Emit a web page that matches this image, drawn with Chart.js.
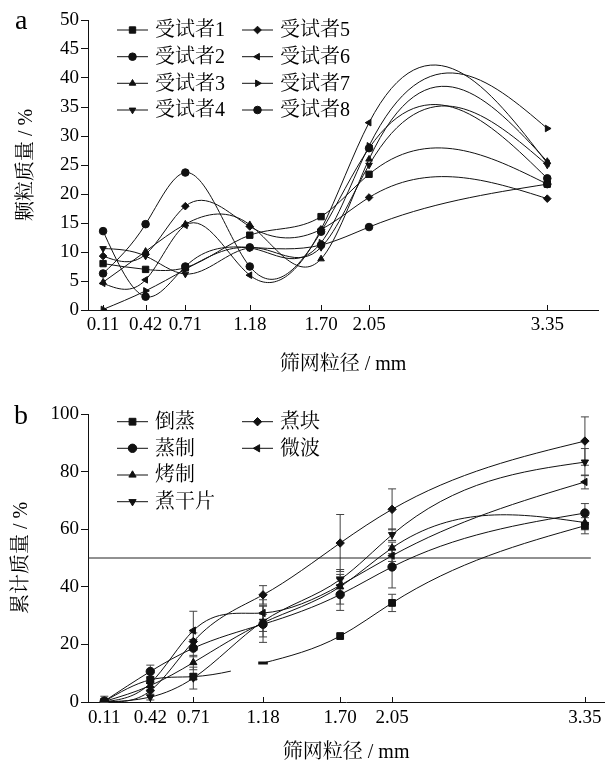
<!DOCTYPE html>
<html>
<head>
<meta charset="utf-8">
<script src="https://cdn.jsdelivr.net/npm/chart.js@4.4.1/dist/chart.umd.min.js"></script>
<style>
html, body { margin: 0; padding: 0; background: #fff; }
#wrap { position: relative; width: 610px; height: 768px; overflow: hidden; }
#chartA { position: absolute; left: 0; top: 0; }
#chartB { position: absolute; left: 0; top: 380px; }
.tag { position: absolute; font-family: 'Liberation Serif', serif; font-size: 28px; color: #000; line-height: 1; }
</style>
</head>
<body>
<div id="wrap">
	<canvas id="chartA" width="610" height="380"></canvas>
	<canvas id="chartB" width="610" height="388"></canvas>
	<div class="tag" style="left:15px;top:6px;">a</div>
	<div class="tag" style="left:14px;top:401px;">b</div>
</div>
<script>
// 筛孔尺寸 (mm)
const sieveSizes = [0.11, 0.42, 0.71, 1.18, 1.70, 2.05, 3.35];

// 图 a : 各受试者颗粒质量分布 (%)
const subjectNames = ['受试者1', '受试者2', '受试者3', '受试者4', '受试者5', '受试者6', '受试者7', '受试者8'];
const subject1 = [8.0, 7.0, 7.3, 12.9, 16.1, 23.4, 21.7];
const subject2 = [6.3, 14.8, 23.7, 7.5, 13.5, 27.9, 22.7];
const subject3 = [4.8, 10.1, 14.8, 14.7, 8.8, 26.0, 25.6];
const subject4 = [10.6, 9.3, 6.2, 10.7, 10.8, 25.0, 25.0];
const subject5 = [9.3, 9.6, 17.9, 14.4, 13.9, 19.4, 19.2];
const subject6 = [4.6, 5.2, 14.6, 6.0, 13.9, 32.3, 25.3];
const subject7 = [0.1, 3.3, 7.0, 10.7, 11.6, 28.3, 31.3];
const subject8 = [13.6, 2.3, 7.5, 10.8, 11.2, 14.3, 21.7];
const subjectTicks = [0, 5, 10, 15, 20, 25, 30, 35, 40, 45, 50];

// 图 b : 累计质量 (%) 及误差
const methodNames = ['倒蒸', '蒸制', '烤制', '煮干片', '煮块', '微波'];
const daozheng = [0.2, 7.7, 8.8, 13.5, 22.9, 34.4, 61.2];
const zhengzhi = [0.3, 10.6, 18.7, 27.0, 37.3, 46.9, 65.6];
const kaozhi = [0.2, 5.7, 13.7, 27.5, 40.0, 53.5, 62.3];
const zhuganpian = [0, 1.7, 8.3, 28.0, 42.5, 58.1, 83.3];
const zhukuai = [0.2, 3.9, 21.0, 37.2, 55.2, 66.9, 90.6];
const weibo = [0.1, 6.5, 24.8, 30.9, 40.5, 50.8, 76.4];
const daozhengErr = [0, 1.0, 1.0, 0, 0, 3.0, 2.8];
const zhengzhiErr = [0.5, 2.2, 3.0, 6.3, 5.5, 7.3, 3.3];
const kaozhiErr = [0.3, 1.5, 2.5, 3.0, 6.0, 2.0, 2.5];
const zhuganpianErr = [0, 1.0, 3.8, 5.4, 1.8, 2.0, 4.7];
const zhukuaiErr = [1.8, 1.5, 3.0, 3.2, 9.9, 7.1, 8.4];
const weiboErr = [0.3, 1.5, 6.7, 4.6, 3.0, 2.0, 2.4];
const medianLevel = 50;
const medianSpan = [0, 3.39];
const cumTicks = [0, 20, 40, 60, 80, 100];

const FONT = "'Liberation Serif', 'Noto Serif CJK SC', 'Noto Sans CJK SC', serif";
const INK = '#111';

function toPoints(values) {
	return values.map((v, i) => ({x: sieveSizes[i], y: v}));
}

// 自然三次样条: 改写每个点的贝塞尔控制点
function setNaturalSpline(pts) {
	const n = pts.length - 1;
	if (n < 1) {
		return;
	}
	const h = [], d = [];
	for (let i = 0; i < n; i++) {
		h[i] = pts[i + 1].x - pts[i].x;
		d[i] = (pts[i + 1].y - pts[i].y) / h[i];
	}
	const M = new Array(n + 1).fill(0);
	if (n > 1) {
		const a = [], b = [], c = [], r = [];
		for (let i = 1; i < n; i++) {
			a.push(h[i - 1]);
			b.push(2 * (h[i - 1] + h[i]));
			c.push(h[i]);
			r.push(6 * (d[i] - d[i - 1]));
		}
		const m = b.length;
		for (let i = 1; i < m; i++) {
			const w = a[i] / b[i - 1];
			b[i] -= w * c[i - 1];
			r[i] -= w * r[i - 1];
		}
		const sol = new Array(m);
		sol[m - 1] = r[m - 1] / b[m - 1];
		for (let i = m - 2; i >= 0; i--) {
			sol[i] = (r[i] - c[i] * sol[i + 1]) / b[i];
		}
		for (let i = 1; i < n; i++) {
			M[i] = sol[i - 1];
		}
	}
	for (let i = 0; i <= n; i++) {
		const p = pts[i];
		const slope = i < n
			? d[i] - h[i] * (2 * M[i] + M[i + 1]) / 6
			: d[n - 1] + h[n - 1] * (M[n - 1] + 2 * M[n]) / 6;
		if (i > 0) {
			p.cp1x = p.x - h[i - 1] / 3;
			p.cp1y = p.y - slope * h[i - 1] / 3;
		}
		if (i < n) {
			p.cp2x = p.x + h[i] / 3;
			p.cp2y = p.y + slope * h[i] / 3;
		}
	}
}

const splinePlugin = {
	id: 'naturalSpline',
	beforeDatasetsDraw(chart) {
		chart.data.datasets.forEach((ds, di) => {
			const meta = chart.getDatasetMeta(di);
			if (!meta.dataset || meta.hidden) {
				return;
			}
			meta.dataset.updateControlPoints(chart.chartArea, 'x');
			setNaturalSpline(meta.data.filter(p => !p.skip));
			meta.dataset._path = undefined;
		});
	}
};

const errorBarPlugin = {
	id: 'errorBars',
	beforeDatasetsDraw(chart) {
		const ctx = chart.ctx;
		const yScale = chart.scales.y;
		ctx.save();
		ctx.strokeStyle = '#444';
		ctx.lineWidth = 1;
		chart.data.datasets.forEach((ds, di) => {
			if (!ds.errorBars) {
				return;
			}
			const meta = chart.getDatasetMeta(di);
			meta.data.forEach((pt, i) => {
				const e = ds.errorBars[i];
				if (!e) {
					return;
				}
				const v = ds.data[i].y;
				const top = yScale.getPixelForValue(v + e);
				const bot = yScale.getPixelForValue(Math.max(v - e, 0));
				ctx.beginPath();
				ctx.moveTo(pt.x, top);
				ctx.lineTo(pt.x, bot);
				ctx.moveTo(pt.x - 4, top);
				ctx.lineTo(pt.x + 4, top);
				ctx.moveTo(pt.x - 4, bot);
				ctx.lineTo(pt.x + 4, bot);
				ctx.stroke();
			});
		});
		ctx.restore();
	}
};

// x 轴刻度朝内
const innerTickPlugin = {
	id: 'innerTicks',
	afterDraw(chart) {
		const ctx = chart.ctx;
		const xs = chart.scales.x;
		const bottom = chart.chartArea.bottom;
		ctx.save();
		ctx.strokeStyle = INK;
		ctx.lineWidth = 1;
		xs.ticks.forEach(t => {
			const px = Math.round(xs.getPixelForValue(t.value)) + 0.5;
			ctx.beginPath();
			ctx.moveTo(px, bottom);
			ctx.lineTo(px, bottom - 5);
			ctx.stroke();
		});
		ctx.restore();
	}
};

// 图内两列图例
const innerLegendPlugin = {
	id: 'innerLegend',
	afterDraw(chart, args, opts) {
		const ctx = chart.ctx;
		const items = chart.data.datasets.filter(ds => !ds.noLegend);
		ctx.save();
		ctx.font = opts.fontSize + 'px ' + FONT;
		ctx.textBaseline = 'middle';
		items.forEach((ds, i) => {
			const col = Math.floor(i / opts.rows.length);
			const y = opts.rows[i % opts.rows.length];
			const x0 = opts.cols[col];
			ctx.strokeStyle = INK;
			ctx.fillStyle = INK;
			ctx.lineWidth = 1;
			ctx.beginPath();
			ctx.moveTo(x0, y);
			ctx.lineTo(x0 + opts.lineLen, y);
			ctx.stroke();
			Chart.helpers.drawPoint(ctx, {
				pointStyle: Array.isArray(ds.pointStyle) ? ds.pointStyle[0] : ds.pointStyle,
				rotation: ds.pointRotation || 0,
				radius: ds.pointRadius,
				borderWidth: 1
			}, x0 + opts.lineLen / 2, y);
			ctx.fillStyle = '#000';
			ctx.fillText(ds.label, x0 + opts.lineLen + 7, y + 1);
		});
		ctx.restore();
	}
};

function seriesSet(label, values, style, rotation, radius) {
	return {
		label: label,
		data: toPoints(values),
		borderColor: INK,
		backgroundColor: INK,
		borderWidth: 1,
		pointStyle: style,
		pointRotation: rotation,
		pointRadius: radius,
		pointBackgroundColor: INK,
		pointBorderColor: INK,
		pointBorderWidth: 1,
		tension: 0.4,
		fill: false
	};
}

function xAxis(max, height, pad) {
	return {
		type: 'linear',
		min: 0,
		max: max,
		afterBuildTicks: scale => {
			scale.ticks = sieveSizes.map(v => ({value: v}));
		},
		afterFit: scale => {
			scale.height = height;
		},
		border: {display: true, color: INK, width: 1},
		grid: {drawOnChartArea: false, drawTicks: false},
		ticks: {
			autoSkip: false,
			maxRotation: 0,
			padding: pad,
			color: '#000',
			font: {family: FONT, size: 19, lineHeight: 1.2},
			callback: v => Number(v).toFixed(2)
		},
		title: {
			display: true,
			text: '筛网粒径 / mm',
			color: '#000',
			font: {family: FONT, size: 20, lineHeight: 1.2},
			padding: {top: 0, bottom: 3}
		}
	};
}

function yAxis(max, tickValues, text, titlePad) {
	return {
		min: 0,
		max: max,
		afterBuildTicks: scale => {
			scale.ticks = tickValues.map(v => ({value: v}));
		},
		afterFit: scale => {
			scale.width = 88;
		},
		border: {display: true, color: INK, width: 1},
		grid: {drawOnChartArea: false, drawTicks: true, tickLength: 7, color: INK},
		ticks: {
			padding: 2,
			color: '#000',
			font: {family: FONT, size: 19, lineHeight: 1.2}
		},
		title: {
			display: true,
			text: text,
			color: '#000',
			font: {family: FONT, size: 20, lineHeight: 1.2},
			padding: {top: titlePad, bottom: 0}
		}
	};
}

const subjectValues = [subject1, subject2, subject3, subject4, subject5, subject6, subject7, subject8];
const subjectStyles = [['rect', 0], ['circle', 0], ['triangle', 0], ['triangle', 180], ['rectRot', 0], ['triangle', -90], ['triangle', 90], ['circle', 0]];

new Chart(document.getElementById('chartA'), {
	type: 'line',
	data: {
		datasets: subjectValues.map((vals, i) => seriesSet(subjectNames[i], vals, subjectStyles[i][0], subjectStyles[i][1], subjectStyles[i][0] === 'rect' ? 4.5 : 3.8))
	},
	options: {
		responsive: false,
		animation: false,
		events: [],
		layout: {padding: {left: 0, top: 20, right: 12, bottom: 0}},
		scales: {
			x: xAxis(3.72, 70, 4),
			y: yAxis(50, subjectTicks, '颗粒质量 / %', 15)
		},
		plugins: {
			legend: {display: false},
			tooltip: {enabled: false},
			innerLegend: {cols: [117, 242], rows: [30, 56.7, 83.3, 110], lineLen: 31, fontSize: 20}
		}
	},
	plugins: [splinePlugin, innerTickPlugin, innerLegendPlugin]
});

const methodValues = [daozheng, zhengzhi, kaozhi, zhuganpian, zhukuai, weibo];
const methodErrors = [daozhengErr, zhengzhiErr, kaozhiErr, zhuganpianErr, zhukuaiErr, weiboErr];
const methodStyles = [['rect', 0], ['circle', 0], ['triangle', 0], ['triangle', 180], ['rectRot', 0], ['triangle', -90]];

const methodSets = methodValues.map((vals, i) => {
	const ds = seriesSet(methodNames[i], vals, methodStyles[i][0], methodStyles[i][1], methodStyles[i][0] === 'rect' ? 4.8 : 4.2);
	ds.errorBars = methodErrors[i];
	return ds;
});
// 倒蒸 0.71→1.18 段在原图中只画出一截, 1.18 处标记只剩一条短线
methodSets[0].segment = {
	borderDash: ctx => ctx.p0DataIndex === 2 ? [38, 1000] : undefined
};
methodSets[0].pointStyle = sieveSizes.map((v, i) => i === 3 ? 'line' : 'rect');
methodSets[0].pointBorderWidth = sieveSizes.map((v, i) => i === 3 ? 3 : 1);
methodSets.push({
	label: '50%',
	noLegend: true,
	data: medianSpan.map(x => ({x: x, y: medianLevel})),
	borderColor: '#222',
	borderWidth: 1,
	pointRadius: 0,
	tension: 0
});

new Chart(document.getElementById('chartB'), {
	type: 'line',
	data: {datasets: methodSets},
	options: {
		responsive: false,
		animation: false,
		events: [],
		layout: {padding: {left: 0, top: 34, right: 2, bottom: 0}},
		scales: {
			x: xAxis(3.48, 66, 5),
			y: yAxis(100, cumTicks, '累计质量 / %', 10)
		},
		plugins: {
			legend: {display: false},
			tooltip: {enabled: false},
			innerLegend: {cols: [117, 242], rows: [41.7, 68.3, 95, 121.7], lineLen: 31, fontSize: 20}
		}
	},
	plugins: [splinePlugin, errorBarPlugin, innerTickPlugin, innerLegendPlugin]
});
</script>
</body>
</html>
